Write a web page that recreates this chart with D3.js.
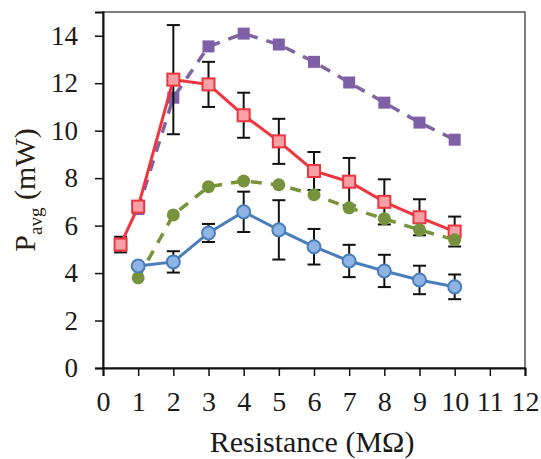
<!DOCTYPE html>
<html>
<head>
<meta charset="utf-8">
<script src="https://cdn.jsdelivr.net/npm/d3@7"></script>
<style>
  body { margin: 0; background: #fff; }
  #chart { width: 541px; height: 459px; }
</style>
</head>
<body>
<div id="chart"></div>
<script>
// series values
const redX = [0.5, 1, 2, 3, 4, 5, 6, 7, 8, 9, 10];
const redY = [5.2, 6.8, 12.15, 11.95, 10.65, 9.55, 8.3, 7.85, 7.0, 6.35, 5.75];
const redErr = [0.33, 0, 2.3, 0.95, 0.95, 0.95, 0.8, 1.0, 0.95, 0.76, 0.63];

const blueX = [1, 2, 3, 4, 5, 6, 7, 8, 9, 10];
const blueY = [4.3, 4.47, 5.69, 6.58, 5.82, 5.11, 4.51, 4.09, 3.71, 3.42];
const blueErr = [0, 0.45, 0.38, 0.85, 1.25, 0.75, 0.68, 0.68, 0.6, 0.52];

const greenX = [1, 2, 3, 4, 5, 6, 7, 8, 9, 10];
const greenY = [3.8, 6.45, 7.64, 7.88, 7.72, 7.3, 6.75, 6.29, 5.82, 5.4];

const purpleX = [1, 2, 3, 4, 5, 6, 7, 8, 9, 10];
const purpleY = [6.7, 11.39, 13.55, 14.09, 13.63, 12.9, 12.03, 11.18, 10.34, 9.62];

const xTicks = [0, 1, 2, 3, 4, 5, 6, 7, 8, 9, 10, 11, 12];
const yTicks = [0, 2, 4, 6, 8, 10, 12, 14];

const serif = "'Liberation Serif', 'Times New Roman', Times, 'DejaVu Serif', serif";

function draw() {
  const w = 541, h = 459;
  const margin = { top: 12, right: 16, bottom: 91, left: 103 };
  const innerW = w - margin.left - margin.right;
  const innerH = h - margin.top - margin.bottom;

  const svg = d3.select("#chart").append("svg")
    .attr("width", w).attr("height", h)
    .attr("font-family", serif);

  const g = svg.append("g")
    .attr("transform", `translate(${margin.left},${margin.top})`);

  const x = d3.scaleLinear().domain([0, 12]).range([0, innerW]);
  const y = d3.scaleLinear().domain([0, 15]).range([innerH, 0]);

  // plot frame
  g.append("rect")
    .attr("width", innerW).attr("height", innerH)
    .attr("fill", "none").attr("stroke", "#555").attr("stroke-width", 1.5);

  const xAxis = g.append("g")
    .attr("transform", `translate(0,${innerH})`)
    .call(d3.axisBottom(x).tickValues(xTicks).tickSize(8).tickPadding(15));
  const yAxis = g.append("g")
    .call(d3.axisLeft(y).tickValues(yTicks).tickSize(8).tickPadding(17));

  xAxis.attr("font-size", 28);
  yAxis.attr("font-size", 27);
  [xAxis, yAxis].forEach(a => {
    a.attr("font-family", serif);
    a.select(".domain").attr("stroke", "#111").attr("stroke-width", 2);
    a.selectAll(".tick line").attr("stroke", "#111").attr("stroke-width", 1.5);
    a.selectAll(".tick text").attr("fill", "#1a1a1a");
  });

  const line = d3.line().x(d => x(d[0])).y(d => y(d[1]));

  function errorBars(xs, ys, es) {
    const pts = xs.map((v, i) => [v, ys[i], es[i]]).filter(d => d[2] > 0);
    const eg = g.append("g").attr("stroke", "#111").attr("stroke-width", 2);
    eg.selectAll("line.v").data(pts).join("line")
      .attr("x1", d => x(d[0])).attr("x2", d => x(d[0]))
      .attr("y1", d => y(d[1] - d[2])).attr("y2", d => y(d[1] + d[2]));
    eg.selectAll("line.t").data(pts).join("line")
      .attr("x1", d => x(d[0]) - 6.5).attr("x2", d => x(d[0]) + 6.5)
      .attr("y1", d => y(d[1] + d[2])).attr("y2", d => y(d[1] + d[2]));
    eg.selectAll("line.b").data(pts).join("line")
      .attr("x1", d => x(d[0]) - 6.5).attr("x2", d => x(d[0]) + 6.5)
      .attr("y1", d => y(d[1] - d[2])).attr("y2", d => y(d[1] - d[2]));
  }

  // purple dashed squares
  const purple = purpleX.map((v, i) => [v, purpleY[i]]);
  g.append("path").datum(purple).attr("d", line)
    .attr("fill", "none").attr("stroke", "#8064a2").attr("stroke-width", 3.5)
    .attr("stroke-dasharray", "11,9");
  g.selectAll("rect.purple").data(purple).join("rect")
    .attr("x", d => x(d[0]) - 6).attr("y", d => y(d[1]) - 6)
    .attr("width", 12).attr("height", 12).attr("fill", "#7f5fa6");

  // red solid squares with error bars
  const red = redX.map((v, i) => [v, redY[i]]);
  errorBars(redX, redY, redErr);
  g.append("path").datum(red).attr("d", line)
    .attr("fill", "none").attr("stroke", "#ee3540").attr("stroke-width", 3);
  g.selectAll("rect.red").data(red).join("rect")
    .attr("x", d => x(d[0]) - 6).attr("y", d => y(d[1]) - 6)
    .attr("width", 12).attr("height", 12)
    .attr("fill", "#f7a1a7").attr("stroke", "#ee3540").attr("stroke-width", 2);

  // green dashed circles
  const green = greenX.map((v, i) => [v, greenY[i]]);
  g.append("path").datum(green).attr("d", line)
    .attr("fill", "none").attr("stroke", "#77933c").attr("stroke-width", 3.5)
    .attr("stroke-dasharray", "11,9");
  g.selectAll("circle.green").data(green).join("circle")
    .attr("cx", d => x(d[0])).attr("cy", d => y(d[1]))
    .attr("r", 6.5).attr("fill", "#76923c");

  // blue solid circles with error bars
  const blue = blueX.map((v, i) => [v, blueY[i]]);
  errorBars(blueX, blueY, blueErr);
  g.append("path").datum(blue).attr("d", line)
    .attr("fill", "none").attr("stroke", "#4a7ebb").attr("stroke-width", 3);
  g.selectAll("circle.blue").data(blue).join("circle")
    .attr("cx", d => x(d[0])).attr("cy", d => y(d[1]))
    .attr("r", 6.5).attr("fill", "#8db4e2").attr("stroke", "#4a7ebb").attr("stroke-width", 2);

  // axis titles
  svg.append("text")
    .attr("x", 312).attr("y", 452)
    .attr("text-anchor", "middle")
    .attr("fill", "#1a1a1a")
    .attr("font-size", 30)
    .text("Resistance (MΩ)");

  const yl = svg.append("text")
    .attr("transform", "translate(35,190) rotate(-90)")
    .attr("text-anchor", "middle")
    .attr("fill", "#2a1f14")
    .attr("font-size", 30);
  yl.append("tspan").text("P");
  yl.append("tspan").attr("dy", 7).attr("font-size", 19).text("avg");
  yl.append("tspan").attr("dy", -7).text(" (mW)");
}

draw();
</script>
</body>
</html>
